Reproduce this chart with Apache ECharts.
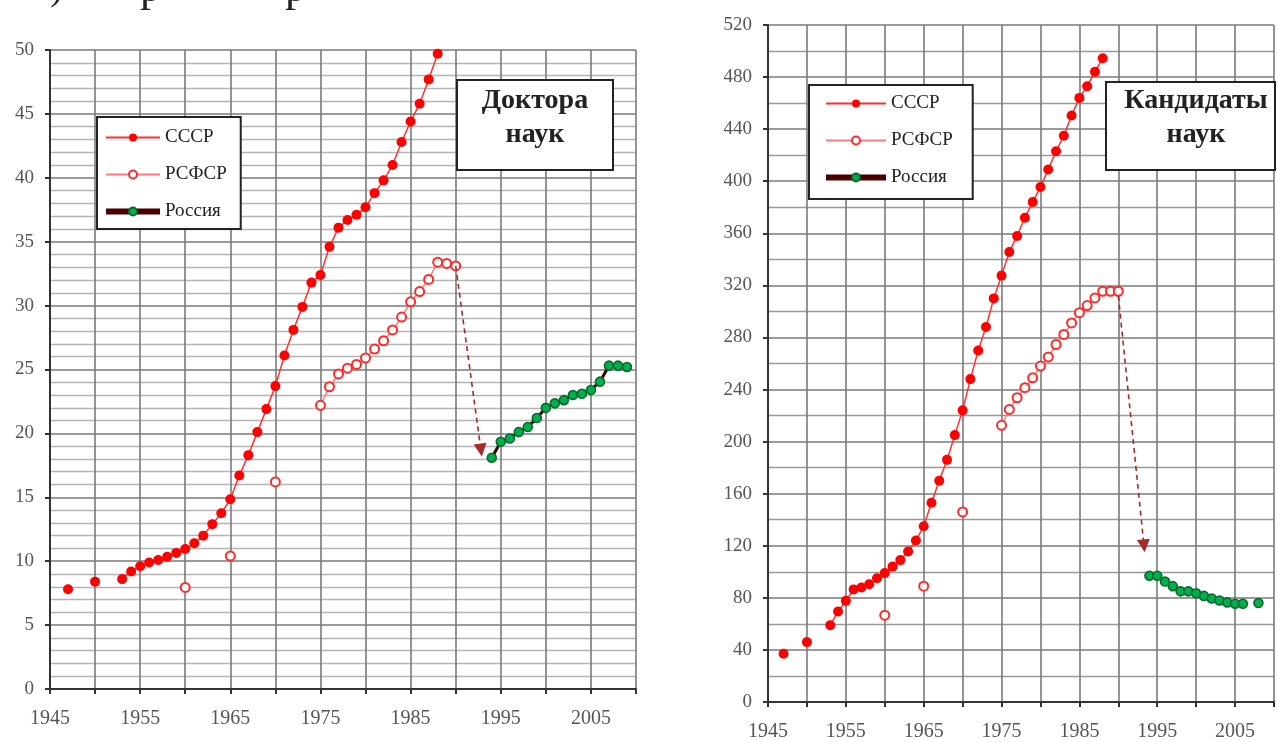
<!DOCTYPE html>
<html>
<head>
<meta charset="utf-8">
<script src="https://cdn.jsdelivr.net/npm/echarts@6/dist/echarts.min.js"></script>
<style>
html,body{margin:0;padding:0;background:#fff;}
#chart{width:1277px;height:742px;}
</style>
</head>
<body>
<div id="chart"></div>
<script>
// ---------- DATA ----------
const seriesNames = ['СССР', 'РСФСР', 'Россия'];
const docTitle = ['Доктора', 'наук'];
const candTitle = ['Кандидаты', 'наук'];

// Доктора наук (thousands)
const docUssrYears = [1947, 1950, 1953, 1954, 1955, 1956, 1957, 1958, 1959, 1960, 1961, 1962, 1963, 1964, 1965, 1966, 1967, 1968, 1969, 1970, 1971, 1972, 1973, 1974, 1975, 1976, 1977, 1978, 1979, 1980, 1981, 1982, 1983, 1984, 1985, 1986, 1987, 1988];
const docUssrVals = [7.8, 8.4, 8.6, 9.2, 9.6, 9.9, 10.1, 10.35, 10.65, 10.95, 11.4, 12.0, 12.9, 13.75, 14.85, 16.7, 18.3, 20.1, 21.9, 23.7, 26.1, 28.1, 29.9, 31.8, 32.4, 34.6, 36.1, 36.7, 37.1, 37.7, 38.8, 39.8, 41.0, 42.8, 44.4, 45.8, 47.7, 49.7];
const docRsfsrYears = [1960, 1965, 1970, 1975, 1976, 1977, 1978, 1979, 1980, 1981, 1982, 1983, 1984, 1985, 1986, 1987, 1988, 1989, 1990];
const docRsfsrVals = [7.95, 10.4, 16.2, 22.2, 23.65, 24.65, 25.1, 25.4, 25.9, 26.6, 27.25, 28.1, 29.1, 30.3, 31.1, 32.05, 33.4, 33.3, 33.1];
const docRusYears = [1994, 1995, 1996, 1997, 1998, 1999, 2000, 2001, 2002, 2003, 2004, 2005, 2006, 2007, 2008, 2009];
const docRusVals = [18.1, 19.35, 19.6, 20.1, 20.5, 21.2, 22.0, 22.35, 22.6, 23.0, 23.1, 23.4, 24.05, 25.3, 25.3, 25.2];
const docArrowFrom = [1990, 33.1];
const docArrowTo = [1992.8, 18.7];

// Кандидаты наук (thousands)
const candUssrYears = [1947, 1950, 1953, 1954, 1955, 1956, 1957, 1958, 1959, 1960, 1961, 1962, 1963, 1964, 1965, 1966, 1967, 1968, 1969, 1970, 1971, 1972, 1973, 1974, 1975, 1976, 1977, 1978, 1979, 1980, 1981, 1982, 1983, 1984, 1985, 1986, 1987, 1988];
const candUssrVals = [37, 46, 59, 69.5, 77.7, 86.5, 88, 90.5, 95, 99, 104, 109, 115.6, 124, 135, 153, 170, 186, 205, 224, 248, 270, 288, 310, 327.5, 345.7, 358, 372, 384, 395.5, 409, 423, 435, 450.5, 464, 473, 484, 494.5];
const candRsfsrYears = [1960, 1965, 1970, 1975, 1976, 1977, 1978, 1979, 1980, 1981, 1982, 1983, 1984, 1985, 1986, 1987, 1988, 1989, 1990];
const candRsfsrVals = [66.7, 89, 146, 212.5, 224.7, 233.7, 241.4, 249, 258, 265, 274.6, 282.3, 291.2, 299, 304.5, 310.4, 315.5, 315.5, 315.5];
const candRusYears = [1994, 1995, 1996, 1997, 1998, 1999, 2000, 2001, 2002, 2003, 2004, 2005, 2006, 2008];
const candRusVals = [97, 97, 92.5, 89, 85, 85, 83.5, 81.5, 79.5, 78, 76.5, 75.5, 75.5, 76];
const candArrowFrom = [1990, 312];
const candArrowTo = [1993.3, 120];

// axis ranges / ticks
const xMin = 1945, xMax = 2010, xStep = 5, xLabelStep = 10;
const docYMax = 50, docYStep = 5, docYMinor = 5;
const candYMax = 520, candYStep = 40, candYMinor = 2;

// ---------- BUILD ----------
function pairs(ys, vs) {
  const out = [];
  for (let i = 0; i < ys.length; i++) {
    if (i > 0 && ys[i] - ys[i - 1] > 1) out.push([ys[i - 1] + 1, '-']);
    out.push([ys[i], vs[i]]);
  }
  return out;
}

const SERIF = 'Liberation Serif';
const RED = '#ff0000';

function xAxis(gridIndex) {
  return {
    type: 'value', gridIndex, min: xMin, max: xMax, interval: xStep,
    axisLine: { show: true, onZero: false, lineStyle: { color: '#333', width: 2 } },
    axisTick: { show: true, length: 5, lineStyle: { color: '#333', width: 2 } },
    axisLabel: {
      margin: 20, fontFamily: SERIF, fontSize: 20, color: '#555',
      formatter: v => ((v - xMin) % xLabelStep === 0 ? String(v) : '')
    },
    splitLine: { show: true, lineStyle: { color: '#7a7a7a', width: 1.6 } }
  };
}
function yAxis(gridIndex, max, step, minor, minorColor) {
  return {
    type: 'value', gridIndex, min: 0, max, interval: step,
    axisLine: { show: true, lineStyle: { color: '#333', width: 2 } },
    axisTick: { show: true, length: 5, lineStyle: { color: '#333', width: 2 } },
    axisLabel: { margin: 16, fontFamily: SERIF, fontSize: 19, color: '#555' },
    splitLine: { show: true, lineStyle: { color: '#7a7a7a', width: 1.6 } },
    minorTick: { show: false, splitNumber: minor },
    minorSplitLine: { show: true, lineStyle: { color: minorColor, width: 1.4 } }
  };
}

function ussrSeries(idx, ys, vs, size) {
  return {
    name: seriesNames[0], type: 'line', xAxisIndex: idx, yAxisIndex: idx,
    data: pairs(ys, vs), symbol: 'circle', symbolSize: size, connectNulls: false,
    lineStyle: { color: '#ff3030', width: 1.5 },
    itemStyle: { color: RED, borderWidth: 0 }, z: 5
  };
}
function rsfsrSeries(idx, ys, vs, from, to, size) {
  return {
    name: seriesNames[1], type: 'line', xAxisIndex: idx, yAxisIndex: idx,
    data: pairs(ys, vs), symbol: 'emptyCircle', symbolSize: size, connectNulls: false,
    lineStyle: { color: '#ff7a7a', width: 1.5 },
    itemStyle: { color: '#ff2a2a', borderWidth: 1.6 }, z: 4,
    markLine: {
      silent: true, animation: false,
      symbol: ['none', 'triangle'], symbolSize: 13,
      label: { show: false },
      lineStyle: { type: [5, 4], color: '#a52a2a', width: 1.6 },
      itemStyle: { color: '#b00000' },
      emphasis: { disabled: true },
      data: [[{ coord: from }, { coord: to }]]
    }
  };
}
function rusSeries(idx, ys, vs, size) {
  return {
    name: seriesNames[2], type: 'line', xAxisIndex: idx, yAxisIndex: idx,
    data: pairs(ys, vs), symbol: 'circle', symbolSize: size, connectNulls: false,
    lineStyle: { color: '#3a0505', width: 3 },
    itemStyle: { color: '#00b050', borderColor: '#0a6a2a', borderWidth: 1.6 }, z: 6
  };
}

function legend(left, top, padding, itemGap, itemWidth) {
  return {
    orient: 'vertical', left, top, padding, itemGap, itemWidth, itemHeight: 10,
    selectedMode: false,
    backgroundColor: '#fff', borderColor: '#222', borderWidth: 2, borderRadius: 0,
    textStyle: { fontFamily: SERIF, fontSize: 19, color: '#222', padding: [0, 0, 0, 0] },
    data: [
      { name: seriesNames[0] },
      { name: seriesNames[1] },
      { name: seriesNames[2], lineStyle: { width: 6, color: '#4a0000' } }
    ],
    z: 20
  };
}

function titleBox(x, y, w, h, lines, cx, ys) {
  return {
    type: 'group', z: 30,
    children: [
      { type: 'rect', z: 30, shape: { x, y, width: w, height: h }, style: { fill: '#fff', stroke: '#222', lineWidth: 2 } },
      { type: 'text', z: 31, x: cx, y: ys[0], style: { text: lines[0], font: 'bold 28px "Liberation Serif"', fill: '#222', align: 'center', verticalAlign: 'middle' } },
      { type: 'text', z: 31, x: cx, y: ys[1], style: { text: lines[1], font: 'bold 28px "Liberation Serif"', fill: '#222', align: 'center', verticalAlign: 'middle' } }
    ]
  };
}

const chart = echarts.init(document.getElementById('chart'), null, { renderer: 'canvas' });
chart.setOption({
  animation: false,
  backgroundColor: '#fff',
  grid: [
    { left: 50, top: 50, width: 586, height: 639, containLabel: false },
    { left: 768, top: 25, width: 507, height: 678, containLabel: false }
  ],
  xAxis: [xAxis(0), xAxis(1)],
  yAxis: [
    yAxis(0, docYMax, docYStep, docYMinor, '#b4b4b4'),
    yAxis(1, candYMax, candYStep, candYMinor, '#9a9a9a')
  ],
  legend: [
    legend(97, 117, [11, 14, 8, 6], 18, 54),
    legend(809, 85, [9, 20, 12, 14], 18, 60)
  ],
  series: [
    ussrSeries(0, docUssrYears, docUssrVals, 10),
    rsfsrSeries(0, docRsfsrYears, docRsfsrVals, docArrowFrom, docArrowTo, 9),
    rusSeries(0, docRusYears, docRusVals, 9),
    ussrSeries(1, candUssrYears, candUssrVals, 10),
    rsfsrSeries(1, candRsfsrYears, candRsfsrVals, candArrowFrom, candArrowTo, 9),
    rusSeries(1, candRusYears, candRusVals, 9)
  ],
  graphic: [
    titleBox(457, 80, 156, 90, docTitle, 535, [101, 135]),
    titleBox(1106, 82, 169, 88, candTitle, 1196, [101, 135]),
    { type: 'text', z: 30, x: 50, y: -12, style: { text: ')', font: '40px "Liberation Serif"', fill: '#222', verticalAlign: 'middle' } },
    { type: 'text', z: 30, x: 140, y: -11, style: { text: 'р', font: '44px "Liberation Serif"', fill: '#222', verticalAlign: 'middle' } },
    { type: 'text', z: 30, x: 285, y: -11, style: { text: 'р', font: '44px "Liberation Serif"', fill: '#222', verticalAlign: 'middle' } }
  ]
});
</script>
</body>
</html>
